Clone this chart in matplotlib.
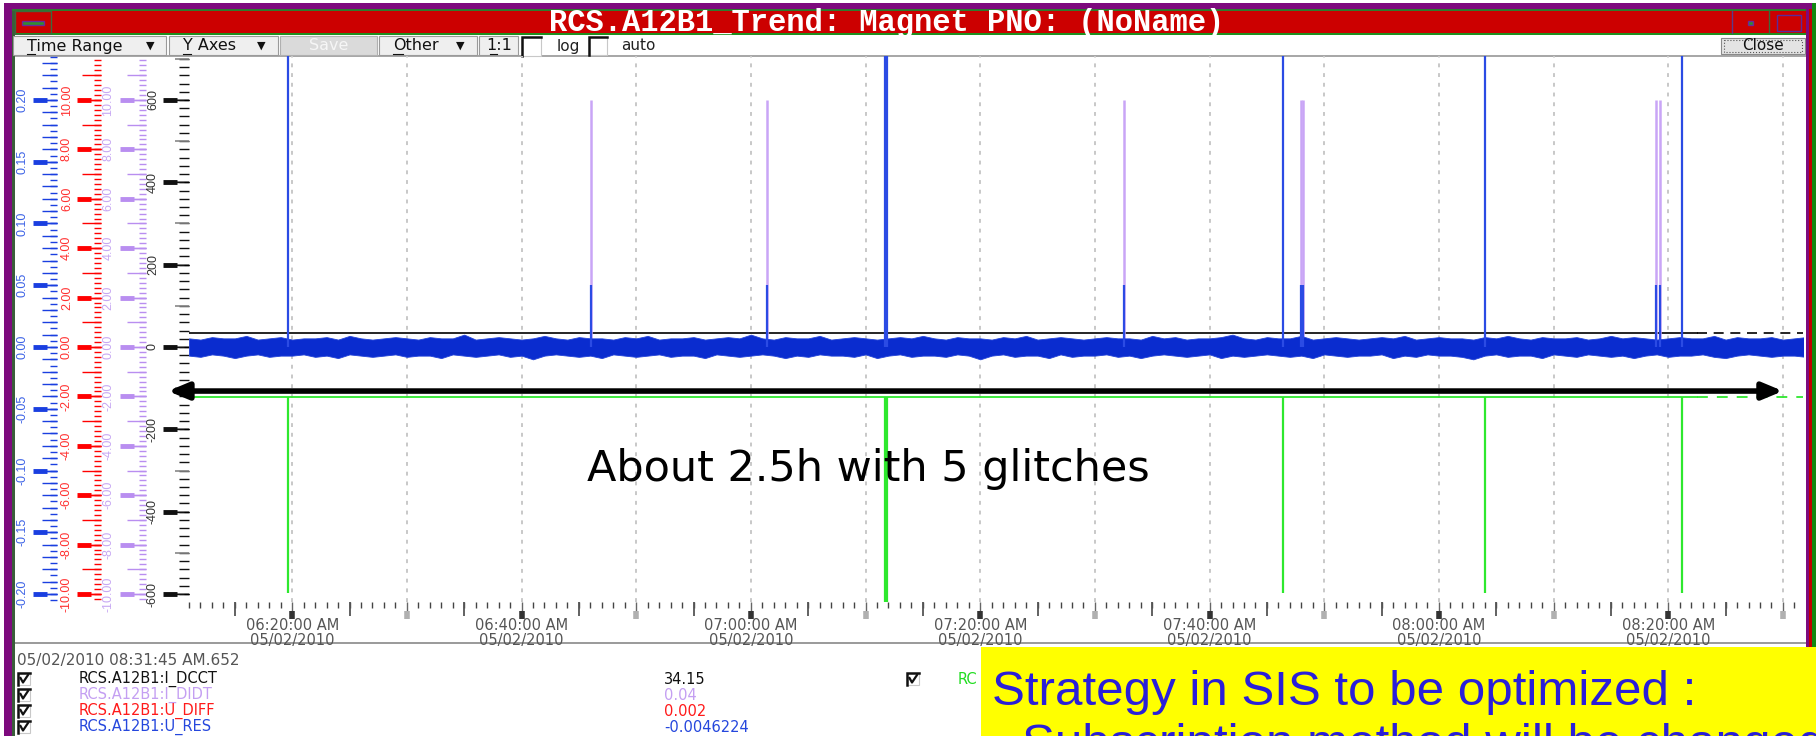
import datetime as dt
import numpy as np
import pandas as pd
import matplotlib
matplotlib.use("Agg")
import matplotlib.pyplot as plt
import matplotlib.dates as mdates
from matplotlib.ticker import MultipleLocator, FuncFormatter, NullLocator
from matplotlib.patches import Rectangle

plt.rcParams["font.family"] = ["DejaVu Sans"]

W, H = 1816, 736
DAY = dt.date(2010, 5, 2)


def at(hms):
    return dt.datetime.combine(DAY, dt.time.fromisoformat(hms))


T_START, T_END = at("06:11:00"), at("08:31:45")

# legend channels and their last sampled value
channel_names = ["RCS.A12B1:I_DCCT", "RCS.A12B1:I_DIDT", "RCS.A12B1:U_DIFF", "RCS.A12B1:U_RES"]
channel_values = [34.15, 0.04, 0.002, -0.0046224]
channel_colors = ["#111111", "#c49ff2", "#ff1a1a", "#2547dd"]

# U_RES noise envelope, one point per minute from 06:11 (mV)
ures_hi = [7, 6, 8, 7, 7, 9, 6, 7, 8, 6, 7, 7, 8, 6, 9, 7, 6, 7, 8, 7,
           6, 8, 7, 7, 10, 6, 7, 8, 7, 6, 7, 9, 7, 6, 8, 7, 7, 6, 8, 7,
           9, 6, 7, 7, 8, 6, 7, 8, 7, 10, 7, 6, 8, 7, 7, 9, 6, 7, 8, 7,
           6, 7, 8, 7, 9, 7, 6, 8, 7, 7, 6, 8, 7, 9, 6, 7, 8, 7, 6, 7,
           8, 7, 7, 6, 9, 7, 8, 6, 7, 7, 8, 10, 7, 6, 8, 7, 7, 9, 6, 7,
           8, 7, 6, 7, 8, 7, 9, 6, 7, 8, 7, 7, 6, 8, 7, 9, 7, 6, 8, 7,
           7, 8, 6, 7, 9, 7, 8, 7, 6, 7, 8, 7, 7, 9, 6, 8, 7, 7, 8, 6,
           7, 8]
ures_lo = [-7, -8, -6, -7, -9, -7, -6, -8, -7, -7, -6, -8, -7, -9, -6, -7, -8, -7, -6, -8,
           -7, -7, -9, -6, -7, -8, -7, -6, -8, -7, -10, -7, -6, -7, -8, -7, -9, -6, -7, -8,
           -7, -6, -8, -7, -7, -9, -6, -7, -8, -7, -6, -7, -9, -7, -8, -6, -7, -7, -8, -6,
           -9, -7, -6, -8, -7, -7, -8, -6, -7, -10, -7, -6, -8, -7, -7, -9, -6, -8, -7, -7,
           -6, -8, -7, -9, -7, -6, -7, -8, -7, -6, -9, -7, -8, -7, -6, -7, -8, -7, -9, -6,
           -7, -8, -7, -7, -6, -9, -7, -8, -6, -7, -7, -8, -10, -7, -6, -8, -7, -7, -9, -6,
           -7, -8, -6, -7, -8, -7, -9, -7, -6, -8, -7, -7, -6, -8, -9, -7, -6, -7, -8, -7,
           -7, -8]

# glitches: U_RES jumps off scale (V), green channel drops
glitch_times = ["06:19:40", "07:11:42", "07:11:50", "07:46:25", "08:04:02", "08:21:12"]
glitch_ures = [0.30, 0.30, 0.30, 0.30, 0.30, 0.30]
glitch_green = [-598, -700, -700, -598, -598, -598]

# I_DIDT spikes (A/s) and the U_RES response that comes with them (V)
didt_times = ["06:46:05", "07:01:26", "07:32:31", "07:48:00", "07:48:10", "08:18:54", "08:19:15"]
didt_peak = [10.0, 10.0, 10.0, 10.0, 10.0, 10.0, 10.0]
didt_ures = [0.05, 0.05, 0.05, 0.05, 0.05, 0.05, 0.05]

green_level = -121
last_dcct = "08:22:30"
last_diff = "08:21:12"

# axis scales: I_DCCT in A, the others follow the same pixel grid
Y_LIM = (-619.4, 706.8)
RES_PER_A = 0.2 / 600
DIDT_PER_A = 10 / 600

PLOT_L, PLOT_R, PLOT_TOP, PLOT_BOT = 189, 1803, 56, 602

fig = plt.figure(figsize=(W / 100, H / 100), dpi=100)
fig.patch.set_facecolor("white")


def px_axes(x0, y0, x1, y1, **kw):
    return fig.add_axes([x0 / W, 1 - y1 / H, (x1 - x0) / W, (y1 - y0) / H], **kw)


def bare(a):
    a.patch.set_visible(False)
    for s in a.spines.values():
        s.set_visible(False)


# ---- window chrome ----
ui = px_axes(0, 0, W, H)
ui.set_xlim(0, W)
ui.set_ylim(H, 0)
ui.set_axis_off()


def rect(a, x0, y0, x1, y1, fc, ec="none", lw=0, ls="-", z=1):
    a.add_patch(Rectangle((x0, y0), x1 - x0, y1 - y0, facecolor=fc, edgecolor=ec,
                          linewidth=lw, linestyle=ls, zorder=z))


PURPLE = "#7d0a7d"
rect(ui, 4, 3, 1812, 9, PURPLE)
rect(ui, 4, 3, 12, H, PURPLE)
rect(ui, 12, 9, 15, H, "#3a5e3a")
rect(ui, 12, 9, 1809, 10.5, "#2e7a2e")
rect(ui, 1806, 3, 1809, H, PURPLE)
rect(ui, 1809, 9, 1812, H, "#c00000")
rect(ui, 1812, 3, 1816, H, "#118811")

# title bar
rect(ui, 15, 10.5, 1806, 34, "#cc0000")
rect(ui, 15, 33, 1806, 35, "#1f8f1f")
rect(ui, 15, 11, 51, 33.5, "none", ec="#3c6a3c", lw=1)
rect(ui, 22, 21, 44, 25, "#2f8f2f", ec="#6a2a9a", lw=1)
ui.plot([1731.5, 1731.5], [11, 33], color="#5a3a8a", lw=1)
ui.plot([1769, 1769], [11, 33], color="#3c6a3c", lw=1)
rect(ui, 1748, 21, 1753, 25, "#2f8f2f", ec="#6a2a9a", lw=1)
rect(ui, 1777, 15, 1801, 31, "none", ec="#5a2a9a", lw=1)
ui.text(887, 22.5, "RCS.A12B1_Trend: Magnet PNO: (NoName)", color="white",
        family=["Liberation Mono", "DejaVu Sans Mono"], weight="bold", fontsize=22,
        ha="center", va="center")

# toolbar
rect(ui, 15, 35, 1806, 56, "white")
rect(ui, 15, 55, 1806, 57, "#a8a8a8")
TB = dict(fontsize=11.5, color="#111111", va="center")
for x0, x1 in [(13, 166), (169, 278), (379, 477), (479, 518)]:
    rect(ui, x0, 36, x1, 55, "#efefef", ec="#9a9a9a", lw=0.8)
rect(ui, 280, 36, 377, 55, "#dadada", ec="#b0b0b0", lw=0.8)
ui.text(27, 46, "Time Range", **TB)
ui.text(183, 46, "Y Axes", **TB)
ui.text(393, 46, "Other", **TB)
ui.text(499, 46, "1:1", ha="center", fontsize=11.5, color="#111111", va="center")
ui.text(329, 46, "Save", ha="center", va="center", fontsize=11.5, color="#f6f6f6")
for x in (150, 261, 460):
    ui.text(x, 46, "\u25bc", ha="center", va="center", fontsize=8, color="#111111")
for x0, x1 in [(27, 35), (183, 191), (393, 403), (490, 497)]:
    ui.plot([x0, x1], [54, 54], color="#111111", lw=0.8)


def box_check(x, y, size=16, checked=False):
    rect(ui, x, y - size / 2, x + size, y + size / 2, "white", ec="#c8c8c8", lw=0.8)
    ui.plot([x, x, x + size], [y + size / 2, y - size / 2, y - size / 2],
            color="#111111", lw=1.8, solid_joinstyle="miter")
    if checked:
        ui.plot([x + 2.5, x + 5, x + 10], [y - 1, y + 3.5, y - 4], color="#111111", lw=1.6)


box_check(522, 46, size=19)
box_check(589, 46, size=18)
ui.text(568, 46, "log", ha="center", fontsize=11, color="#222222", va="center")
ui.text(638, 46, "auto", ha="center", fontsize=11, color="#222222", va="center")

rect(ui, 1721, 38, 1805, 54, "#e4e4e4", ec="#8a8a8a", lw=0.8)
rect(ui, 1724, 40, 1802, 52, "none", ec="#555555", lw=0.8, ls=":")
ui.text(1763, 46, "Close", ha="center", va="center", fontsize=11, color="#111111")

# separator under the time axis
rect(ui, 15, 642, 1806, 644, "#9c9c9c")

# legend
ui.text(17, 660, "05/02/2010 08:31:45 AM.652", fontsize=11, color="#555555", va="center")
for i, (name, val, col) in enumerate(zip(channel_names, channel_values, channel_colors)):
    y = 679 + 16 * i
    box_check(18, y, size=12, checked=True)
    ui.text(79, y, name, fontsize=10.5, color=col, va="center")
    ui.text(664, y, f"{val:g}", fontsize=10.5, color=col, va="center")
box_check(907, 679, size=12, checked=True)
ui.text(958, 679, "RC", fontsize=10.5, color="#22dd22", va="center")


# ---- left value scales ----
def tick_column(x, lim, step, length, width, color, labels=None):
    c = px_axes(x - 1, PLOT_TOP, x, PLOT_BOT)
    c.set_ylim(*lim)
    bare(c)
    c.xaxis.set_visible(False)
    c.yaxis.set_major_locator(MultipleLocator(step))
    c.tick_params(axis="y", length=length, width=width, color=color, labelleft=False)
    if labels is not None:
        fmt, lcolor, pad = labels
        c.yaxis.set_major_formatter(FuncFormatter(fmt))
        c.tick_params(axis="y", labelleft=True, labelsize=9, labelcolor=lcolor,
                      pad=pad, labelrotation=90)
        plt.setp(c.get_yticklabels(), va="center", family=["Liberation Sans", "DejaVu Sans"])
    return c


def fmt_int(v, _):
    return f"{int(round(v))}"


def fmt_2(v, _):
    return f"{round(v, 2) + 0:.2f}"


lim_a = Y_LIM
lim_didt = (Y_LIM[0] * DIDT_PER_A, Y_LIM[1] * DIDT_PER_A)
lim_res = (Y_LIM[0] * RES_PER_A, Y_LIM[1] * RES_PER_A)

# U_RES (blue)
tick_column(58, lim_res, 0.005, 5, 1, "#1a3fe0")
tick_column(58, lim_res, 0.01, 11, 1, "#1a3fe0")
tick_column(58, lim_res, 0.05, 10, 1, "#1a3fe0")
tick_column(48, lim_res, 0.05, 10, 3.5, "#1a3fe0", (fmt_2, "#3c62e6", 3))
# U_DIFF (red)
tick_column(102, lim_didt, 0.2, 5, 1, "#ff0000")
tick_column(102, lim_didt, 1, 14, 1, "#ff0000")
tick_column(102, lim_didt, 2, 10, 1, "#ff0000")
tick_column(92, lim_didt, 2, 10, 3.5, "#ff0000", (fmt_2, "#ff3030", 3))
# I_DIDT (purple)
tick_column(147, lim_didt, 0.2, 5, 1, "#b98ef0")
tick_column(147, lim_didt, 1, 14, 1, "#b98ef0")
tick_column(147, lim_didt, 2, 12, 1, "#b98ef0")
tick_column(135, lim_didt, 2, 10, 3.5, "#b98ef0", (fmt_2, "#c7a8f3", 4))
# I_DCCT (black)
tick_column(190, lim_a, 20, 7, 1, "#111111")
tick_column(190, lim_a, 100, 10, 1.2, "#888888")
tick_column(190, lim_a, 200, 12, 1, "#111111")
tick_column(178, lim_a, 200, 10, 3.5, "#111111", (fmt_int, "#333333", 3))

# ---- trend area ----
ax = px_axes(PLOT_L, PLOT_TOP, PLOT_R, PLOT_BOT)
ax.set_xlim(T_START, T_END)
ax.set_ylim(*Y_LIM)
bare(ax)
ax.tick_params(axis="y", left=False, labelleft=False)
ax.xaxis.set_major_locator(mdates.MinuteLocator(byminute=range(0, 60, 10)))
ax.xaxis.set_minor_locator(mdates.MinuteLocator())
ax.tick_params(axis="x", which="major", length=8, width=1, color="#666666", labelbottom=False)
ax.tick_params(axis="x", which="minor", length=4, width=1, color="#444444")
ax.grid(axis="x", which="major", color="#c8c8c8", linestyle=(0, (2, 3)), linewidth=1.4)

ax5 = px_axes(PLOT_L, PLOT_TOP, PLOT_R, PLOT_BOT)
ax5.set_xlim(T_START, T_END)
bare(ax5)
ax5.yaxis.set_visible(False)
ax5.xaxis.set_major_locator(mdates.MinuteLocator(byminute=range(5, 60, 10)))
ax5.xaxis.set_minor_locator(NullLocator())
ax5.tick_params(axis="x", length=10, width=1.3, color="#555555", labelbottom=False)

axlab = px_axes(PLOT_L, 610, PLOT_R, 611)
axlab.set_xlim(T_START, T_END)
bare(axlab)
axlab.yaxis.set_visible(False)
axlab.xaxis.set_major_locator(mdates.MinuteLocator(byminute=[0, 20, 40]))
axlab.xaxis.set_minor_locator(mdates.MinuteLocator(byminute=[10, 30, 50]))
axlab.xaxis.set_major_formatter(mdates.DateFormatter("%I:%M:%S %p\n%m/%d/%Y"))
axlab.tick_params(axis="x", which="major", length=6, width=4, color="#333333",
                  labelsize=10.5, labelcolor="#555555", pad=-1)
axlab.tick_params(axis="x", which="minor", length=6, width=4, color="#b0b0b0")
plt.setp(axlab.get_xticklabels(), linespacing=1.0)


def channel_axes(scale):
    t = ax.twinx()
    t.set_ylim(Y_LIM[0] * scale, Y_LIM[1] * scale)
    t.set_axis_off()
    return t


GREEN = "#2ee82e"
t_dcct = at(last_dcct)
g_t = [at(s) for s in glitch_times]
d_t = [at(s) for s in didt_times]

# I_DCCT and the green channel on the ampere scale
ax.plot([T_START, t_dcct], [channel_values[0]] * 2, color="black", lw=1.2)
ax.plot([t_dcct, T_END], [channel_values[0]] * 2, color="black", lw=1.2, ls=(0, (6, 4)))
ax.plot([T_START, t_dcct], [green_level] * 2, color=GREEN, lw=1.3)
ax.plot([t_dcct, T_END], [green_level] * 2, color=GREEN, lw=1.3, ls=(0, (6, 5)))
ax.vlines(g_t, green_level, glitch_green, color=GREEN, lw=1.6)

ax_didt = channel_axes(DIDT_PER_A)
ax_didt.plot([T_START, T_END], [channel_values[1]] * 2, color="#c49ff2", lw=1)
ax_didt.vlines(d_t, channel_values[1], didt_peak, color="#c9a5f6", lw=1.8)

ax_diff = channel_axes(DIDT_PER_A)
t_diff = at(last_diff)
ax_diff.plot([T_START, t_diff], [channel_values[2]] * 2, color="#ff1a1a", lw=1)
ax_diff.plot([t_diff, T_END], [channel_values[2]] * 2, color="#ff1a1a", lw=1,
             ls=(0, (9, 3, 2, 3)))

ax_res = channel_axes(RES_PER_A)
noise_t = pd.date_range(T_START, periods=len(ures_hi), freq="1min").to_pydatetime()
ax_res.fill_between(noise_t, np.array(ures_lo) / 1000, np.array(ures_hi) / 1000,
                    facecolor="#0a2ccf", edgecolor="#2444d8", lw=0.6)
ax_res.vlines(g_t, 0, glitch_ures, color="#2b4be4", lw=1.6)
ax_res.vlines(d_t, 0, didt_ures, color="#2b4be4", lw=1.6)

# double arrow spanning the observation window, on the ampere scale
arrow_y = -107
ax_res.annotate("", xy=(mdates.date2num(at("08:30:00")), arrow_y),
                xytext=(mdates.date2num(at("06:09:10")), arrow_y),
                xycoords=ax.transData, textcoords=ax.transData, annotation_clip=False,
                arrowprops=dict(arrowstyle="<|-|>,head_length=1.2,head_width=0.5",
                                mutation_scale=10, lw=4.0, color="black",
                                shrinkA=0, shrinkB=0))

# ---- slide overlay ----
top = px_axes(0, 0, W, H, zorder=10)
top.set_xlim(0, W)
top.set_ylim(H, 0)
top.set_axis_off()
top.text(868, 481, "About 2.5h with 5 glitches", fontsize=31, color="black",
         ha="center", va="baseline")
rect(top, 981, 647, W, H, "#ffff00")
top.text(992, 705, "Strategy in SIS to be optimized :", fontsize=35.5,
         family=["Liberation Sans", "DejaVu Sans"], color="#2a1fd8", va="baseline", zorder=3)
top.text(992, 758, "- Subscription method will be changed", fontsize=35.5,
         family=["Liberation Sans", "DejaVu Sans"], color="#2a1fd8", va="baseline", zorder=3)

fig.savefig("out.png", dpi=100)
